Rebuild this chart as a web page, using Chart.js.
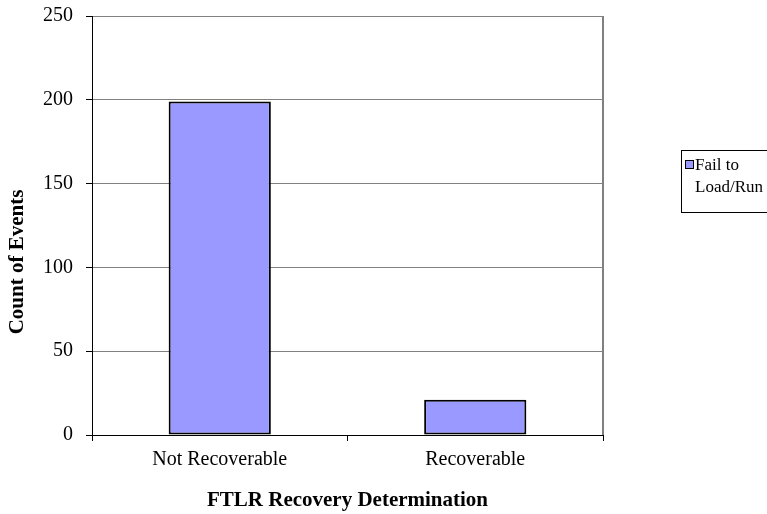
<!DOCTYPE html>
<html>
<head>
<meta charset="utf-8">
<script src="https://cdn.jsdelivr.net/npm/chart.js@4.4.0/dist/chart.umd.min.js"></script>
<style>
  html, body { margin: 0; padding: 0; background: #fff; }
  #wrap { width: 767px; height: 514px; }
</style>
</head>
<body>
<div id="wrap"><canvas id="myChart" width="767" height="514"></canvas></div>
<script>
// Datos del gráfico
var categorias = ["Not Recoverable", "Recoverable"];
var serieNombre = ["Fail to", "Load/Run"];
var valores = [199, 21];
var ticksY = [0, 50, 100, 150, 200, 250];
var tituloY = "Count of Events";

var colorBarra = "#9999FF";
var fuente = "'Liberation Serif', 'Times New Roman', serif";

// Plugin para el borde derecho, el título del eje Y y la leyenda en caja
var extras = {
    id: "extras",
    afterDraw: function (chart) {
        var c = chart.ctx;
        var area = chart.chartArea;
        c.save();
        // borde derecho gris
        c.strokeStyle = "#808080";
        c.lineWidth = 2;
        c.beginPath();
        c.moveTo(area.right, area.top);
        c.lineTo(area.right, area.bottom);
        c.stroke();

        // título del eje Y
        c.save();
        c.translate(18, 262);
        c.rotate(-Math.PI / 2);
        c.fillStyle = "#000";
        c.font = "bold 21px " + fuente;
        c.textAlign = "center";
        c.textBaseline = "middle";
        c.fillText(tituloY, 0, 0);
        c.restore();

        // leyenda
        c.strokeStyle = "#000";
        c.lineWidth = 1;
        c.strokeRect(681.5, 150.5, 100, 62);
        c.fillStyle = colorBarra;
        c.fillRect(685, 160, 9, 9);
        c.strokeRect(685.5, 160.5, 8, 8);
        c.fillStyle = "#000";
        c.font = "17px " + fuente;
        c.textBaseline = "middle";
        c.fillText(serieNombre[0], 695, 166);
        c.fillText(serieNombre[1], 695, 188);
        c.restore();
    }
};

var ctx = document.getElementById("myChart").getContext("2d");
var myChart = new Chart(ctx, {
    type: "bar",
    data: {
        labels: categorias,
        datasets: [{
            label: serieNombre.join(" "),
            data: valores,
            backgroundColor: colorBarra,
            borderColor: "#000",
            borderWidth: 2,
            borderSkipped: false,
            barPercentage: 0.4,
            categoryPercentage: 1.0
        }]
    },
    options: {
        responsive: false,
        animation: false,
        layout: { padding: { top: 16, right: 164, left: 0, bottom: 0 } },
        plugins: {
            legend: { display: false },
            tooltip: { enabled: false }
        },
        scales: {
            x: {
                offset: true,
                grid: {
                    offset: true,
                    drawOnChartArea: false,
                    drawTicks: true,
                    tickLength: 6,
                    tickColor: "#000"
                },
                border: { color: "#000", width: 1 },
                ticks: {
                    color: "#000",
                    padding: 7,
                    font: { family: fuente, size: 20 }
                },
                title: {
                    display: true,
                    text: "FTLR Recovery Determination",
                    color: "#000",
                    font: { family: fuente, size: 21, weight: "bold" },
                    padding: { top: 10, bottom: 1 }
                },
                afterFit: function (scale) {
                    scale.height = 79;
                    scale.paddingLeft = 0;
                    scale.paddingRight = 0;
                }
            },
            y: {
                min: 0,
                max: 250,
                afterBuildTicks: function (scale) {
                    scale.ticks = ticksY.map(function (v) { return { value: v }; });
                },
                grid: {
                    color: "#808080",
                    lineWidth: 1,
                    drawTicks: true,
                    tickLength: 6,
                    tickColor: "#000"
                },
                border: { color: "#000", width: 1 },
                ticks: {
                    color: "#000",
                    padding: 13,
                    font: { family: fuente, size: 20 }
                },
                afterFit: function (scale) {
                    scale.width = 92;
                    scale.paddingTop = 0;
                    scale.paddingBottom = 0;
                }
            }
        }
    },
    plugins: [extras]
});
</script>
</body>
</html>
